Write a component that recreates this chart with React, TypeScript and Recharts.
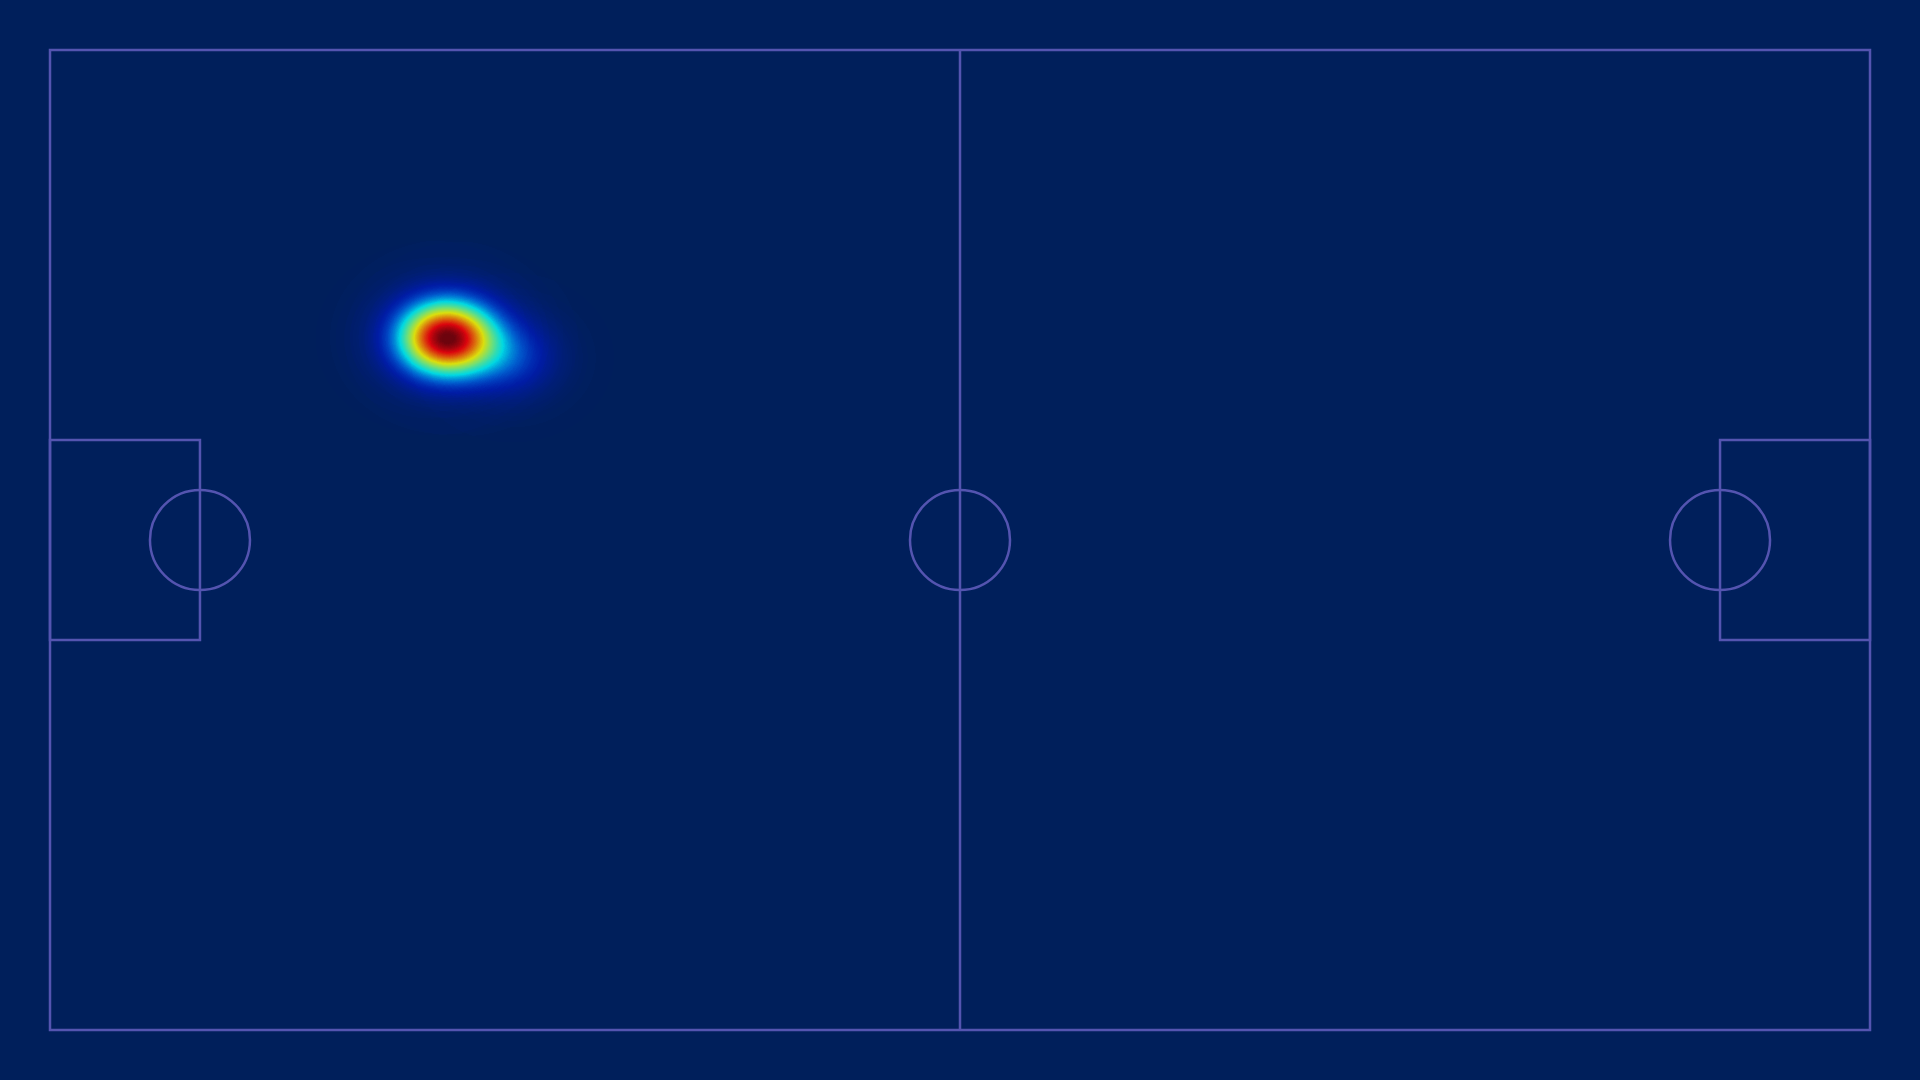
import React from 'react';
import { ScatterChart, Scatter, XAxis, YAxis, ReferenceLine, ReferenceArea, ReferenceDot } from 'recharts';

// pitch units: 0..100 on both axes, y counted down from the top touchline
const heatX = [21.0, 21.8, 22.6, 25.4];
const heatY = [29.4, 29.3, 29.5, 31.4];
const heatW = [1, 1, 1, 0.45];

const boxDepth = 8.24;
const boxTop = 39.8;
const boxBottom = 60.2;
const spotX = [8.24, 50, 91.76];
const spotY = [50, 50, 50];

const heatData = heatX.map((x, i) => ({ x, y: heatY[i], w: heatW[i] }));

const BG = '#001f5b';
const LINE = '#5454b0';

// jet-like colour map (starting at blue), 9 evenly spaced stops
const jetR = '0 0 0 0 0.5 1 1 1 0.5';
const jetG = '0.1 0.1 0.5 1 1 1 0.5 0 0';
const jetB = '1 1 1 1 0.5 0 0 0 0';
const fade = '0 0.45 0.72 0.83 0.86 0.86 0.86 0.86 0.86';

// gaussian kernel with a soft shoulder, radius = 4 sigma
const kernelStops = Array.from({ length: 17 }, (_, i) => {
  const t = i / 16;
  const r = 4 * t;
  return { offset: t, opacity: 0.94 * Math.exp(-(r * r) / 2) + 0.06 * Math.exp(-(r * r) / 6) };
});

const Kernel = (props: any) => {
  const { cx, cy, payload } = props;
  return (
    <ellipse
      cx={cx}
      cy={cy}
      rx={120}
      ry={100}
      fill="url(#kernel)"
      fillOpacity={0.36 * payload.w}
      style={{ mixBlendMode: 'plus-lighter' as any }}
    />
  );
};

export default function App() {
  return (
    <div style={{ position: 'fixed', left: 0, top: 0, width: 1920, height: 1080, background: BG }}>
      <svg width={0} height={0} style={{ position: 'absolute' }}>
        <defs>
          <radialGradient id="kernel">
            {kernelStops.map((s) => (
              <stop key={s.offset} offset={s.offset} stopColor="#000" stopOpacity={s.opacity} />
            ))}
          </radialGradient>
          <filter
            id="heat"
            filterUnits="userSpaceOnUse"
            x={0}
            y={0}
            width={1920}
            height={1080}
            colorInterpolationFilters="sRGB"
          >
            <feColorMatrix
              in="SourceGraphic"
              type="matrix"
              values="0 0 0 1 0  0 0 0 1 0  0 0 0 1 0  0 0 0 0 1"
              result="gray"
            />
            <feComponentTransfer in="gray" result="col">
              <feFuncR type="table" tableValues={jetR} />
              <feFuncG type="table" tableValues={jetG} />
              <feFuncB type="table" tableValues={jetB} />
            </feComponentTransfer>
            <feComponentTransfer in="SourceGraphic" result="mask">
              <feFuncA type="table" tableValues={fade} />
            </feComponentTransfer>
            <feComposite in="col" in2="mask" operator="in" />
          </filter>
        </defs>
      </svg>
      <style>{`.recharts-scatter { filter: url(#heat); isolation: isolate; }`}</style>
      <ScatterChart width={1920} height={1080} margin={{ top: 50, right: 50, bottom: 50, left: 50 }}>
        <XAxis type="number" dataKey="x" domain={[0, 100]} hide />
        <YAxis type="number" dataKey="y" domain={[0, 100]} reversed hide />

        <Scatter data={heatData} shape={Kernel} isAnimationActive={false} />

        {/* pitch markings */}
        <ReferenceArea x1={0} x2={100} y1={0} y2={100} fill="none" stroke={LINE} strokeWidth={2.5} />
        <ReferenceArea x1={0} x2={boxDepth} y1={boxTop} y2={boxBottom} fill="none" stroke={LINE} strokeWidth={2.5} />
        <ReferenceArea x1={100 - boxDepth} x2={100} y1={boxTop} y2={boxBottom} fill="none" stroke={LINE} strokeWidth={2.5} />
        <ReferenceLine x={50} stroke={LINE} strokeWidth={2.5} />
        {spotX.map((x, i) => (
          <ReferenceDot key={i} x={x} y={spotY[i]} r={50} fill="none" stroke={LINE} strokeWidth={2.5} />
        ))}
      </ScatterChart>
    </div>
  );
}
